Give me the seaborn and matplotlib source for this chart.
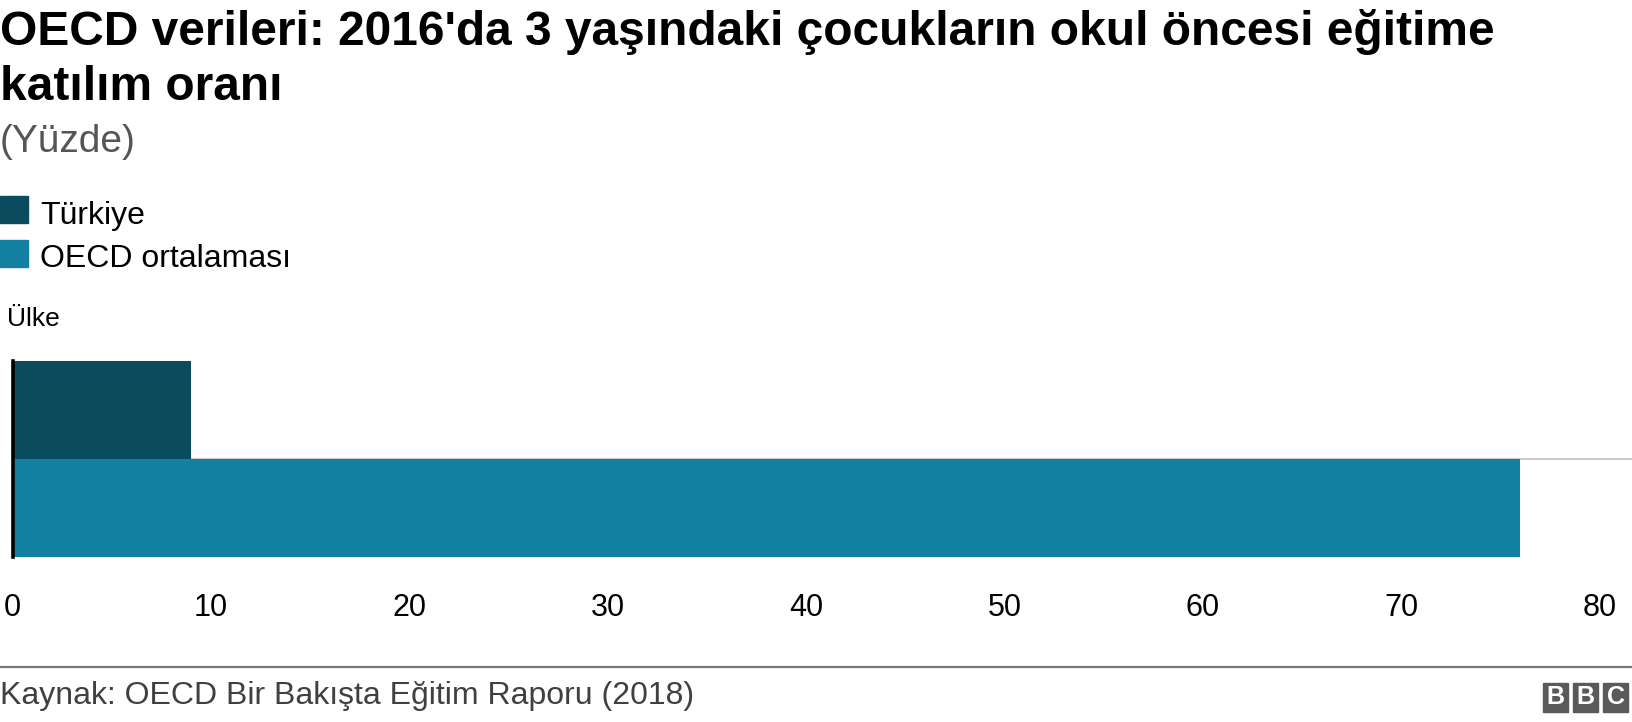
import matplotlib
matplotlib.use("Agg")
import matplotlib.pyplot as plt
import seaborn as sns
from matplotlib.patches import Rectangle

# data
categories = ["Türkiye", "OECD ortalaması"]
values = [9, 76]
colors = ["#0b4b5e", "#1380a1"]
xticks = [0, 10, 20, 30, 40, 50, 60, 70, 80]

title_lines = ["OECD verileri: 2016'da 3 yaşındaki çocukların okul öncesi eğitime",
               "katılım oranı"]
subtitle = "(Yüzde)"
axis_title = "Ülke"
source = "Kaynak: OECD Bir Bakışta Eğitim Raporu (2018)"

sns.set_style("white")
plt.rcParams['font.family'] = ['Liberation Sans', 'DejaVu Sans']
plt.rcParams['text.color'] = 'black'
plt.rcParams['xtick.color'] = 'black'

W, H = 1632, 722
fig = plt.figure(figsize=(W / 100, H / 100), dpi=100)


def fy(px):
    # pixel row from the top -> figure fraction
    return 1 - px / H


# axes placed so the bars sit where they do in the reference
ax_left = 12.6 / W
ax = fig.add_axes([ax_left, fy(556.7), 1 - ax_left, fy(360.7) - fy(556.7)])

sns.barplot(x=values, y=categories, hue=categories, palette=colors,
            orient="h", width=1.0, dodge=False, legend=False,
            saturation=1, linewidth=0, ax=ax, zorder=3)
ax.axhline(0.5, color="#cccccc", lw=1.5, zorder=1)

ax.set_xlim(0, (W - 12.6) / 19.84)
ax.set_ylim(1.5, -0.5)
ax.set_xticks(xticks)
ax.set_xticklabels([str(t) for t in xticks], fontsize=22)
ax.tick_params(axis="x", length=0, pad=26)
ax.set_yticks([])
ax.set_xlabel("")
ax.set_ylabel("")
for s in ["top", "right", "bottom"]:
    ax.spines[s].set_visible(False)
ax.spines["left"].set_color("black")
ax.spines["left"].set_linewidth(2.6)
ax.spines["left"].set_zorder(5)

# titles
fig.text(0, fy(45), title_lines[0], fontsize=34.5, fontweight="bold", va="baseline", ha="left")
fig.text(0, fy(100), title_lines[1], fontsize=34.5, fontweight="bold", va="baseline", ha="left")
fig.text(0, fy(152), subtitle, fontsize=28, color="#555555", va="baseline", ha="left")

# legend
leg_rows = [(196, 224), (240, 267)]
for (top, base), lab, c in zip(leg_rows, categories, colors):
    fig.patches.append(Rectangle((0, fy(top + 27)), 28 / W, 27 / H, color=c,
                                 transform=fig.transFigure, figure=fig))
    fig.text(40 / W, fy(base), lab, fontsize=23, va="baseline", ha="left")

fig.text(7 / W, fy(326), axis_title, fontsize=19, va="baseline", ha="left")

# footer
fig.add_artist(plt.Line2D([0, 1], [fy(667), fy(667)], color="#777777", lw=1.6,
                          transform=fig.transFigure))
fig.text(0, fy(704), source, fontsize=23, color="#404040", va="baseline", ha="left")

# BBC blocks
for i, letter in enumerate("BBC"):
    x0 = 1543 + i * 30
    fig.patches.append(Rectangle((x0 / W, fy(712)), 25 / W, 29 / H, color="#5a5a5a",
                                 transform=fig.transFigure, figure=fig))
    fig.text((x0 + 12.5) / W, fy(697.5), letter, fontsize=18, fontweight="bold",
             color="white", ha="center", va="center")

fig.savefig("out.png", dpi=100)
